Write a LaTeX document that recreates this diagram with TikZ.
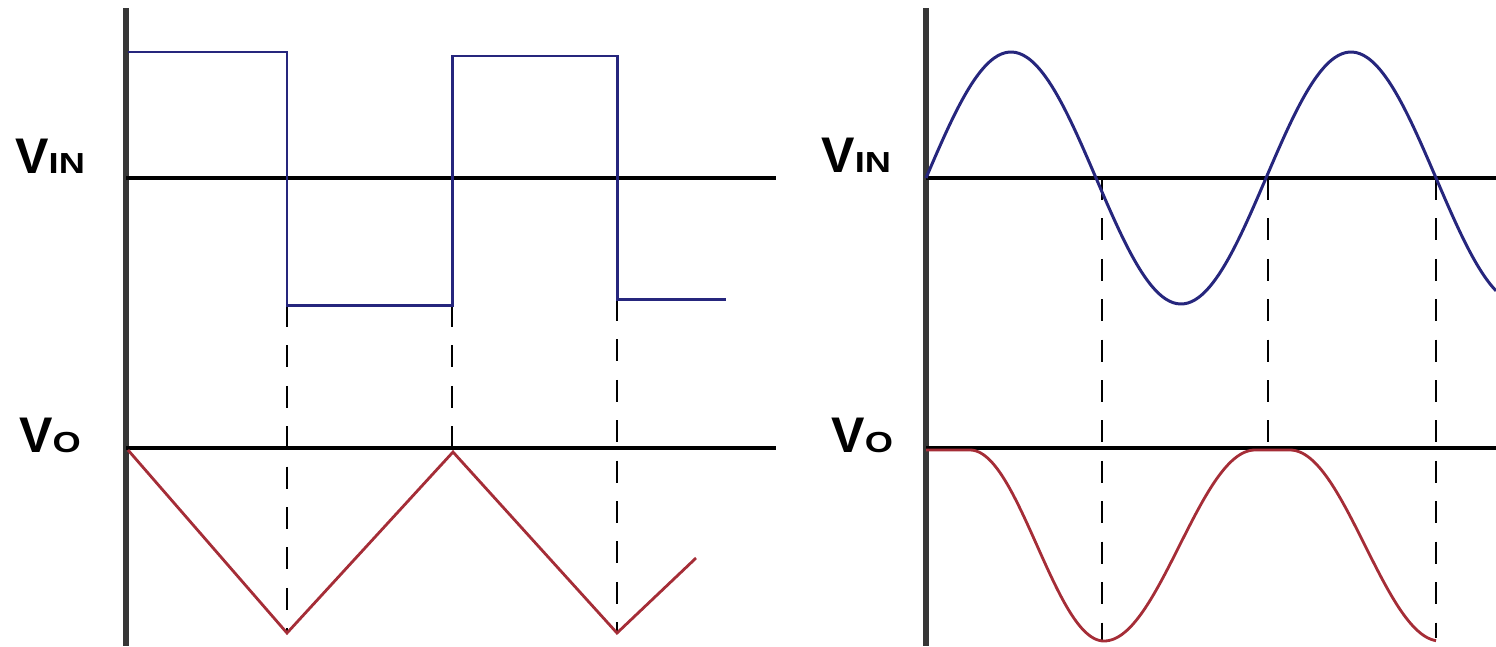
\documentclass[tikz,border=0pt]{standalone}
\usepackage{fontspec}
\usepackage{tikz}
\usetikzlibrary{positioning}
\setmainfont{Liberation Sans}
\newfontfamily\widesans[FakeStretch=1.25]{Liberation Sans}
\newcommand{\lowcaps}[1]{{\widesans\bfseries\fontsize{16.5}{18}\selectfont #1}}
\definecolor{WaveBlue}{RGB}{38,38,125}
\definecolor{WaveRed}{RGB}{165,45,55}
\definecolor{AxisGray}{RGB}{55,55,55}

\begin{document}
\begin{tikzpicture}[
x=0.02cm,y=-0.02cm,
ax/.style={draw=AxisGray,line width=3.4pt},
base/.style={draw=black,line width=2.8pt},
vin/.style={draw=WaveBlue,line width=1.7pt},
vout/.style={draw=WaveRed,line width=1.6pt},
guide/.style={draw=black,line width=1.6pt,dash pattern=on 12.5pt off 10.5pt},
lbl/.style={anchor=base west,inner sep=0pt,font=\bfseries\fontsize{28.5}{30}\selectfont}
]
\useasboundingbox (0,0) rectangle (1496,646);
% dashed guides
\foreach \gx/\gtop/\gbot in {287/305/633,452/305/452,617/299/633,1102/178/642,1268/178/450,1436/178/638}
  \draw[guide] (\gx,\gtop) -- (\gx,\gbot);
% axes
\draw[ax] (126,8) -- (126,646);
\draw[ax] (926,8) -- (926,646);
\draw[base] (126,178) -- (776,178);
\draw[base] (126,448) -- (776,448);
\draw[base] (926,178) -- (1496,178);
\draw[base] (926,448) -- (1496,448);
% left: square in, triangle out
\draw[vin] (128,52) -- (287,52) -- (287,305) -- (452,305) -- (452,56) -- (617,56) -- (617,299) -- (726,299);
\draw[vout] (128,450) -- (287,633) -- (453,452) -- (617,633) -- (696,558);
% right: sine in, rounded out
\draw[vin] plot[domain=926:1496,samples=160,smooth] (\x,{178-126*sin((\x-926)/170*180)});
\draw[vout] (926,450) -- (970,450)
  -- plot[domain=970:1104,samples=60,smooth] (\x,{450+95.5*(1-cos((\x-970)/134*180))})
  -- plot[domain=1104:1255,samples=60,smooth] (\x,{450+95.5*(1+cos((\x-1104)/151*180))})
  -- (1290,450)
  -- plot[domain=1290:1436,samples=60,smooth] (\x,{450+95.5*(1-cos((\x-1290)/150*180))});
% labels
\node[lbl] (vinl) at (15,173) {V\lowcaps{IN}};
\node[lbl] (vol) at (19,452) {V\lowcaps{O}};
\node[lbl] (vinr) at (821,172) {V\lowcaps{IN}};
\node[lbl] (vor) at (831,452) {V\lowcaps{O}};
\end{tikzpicture}
\end{document}
